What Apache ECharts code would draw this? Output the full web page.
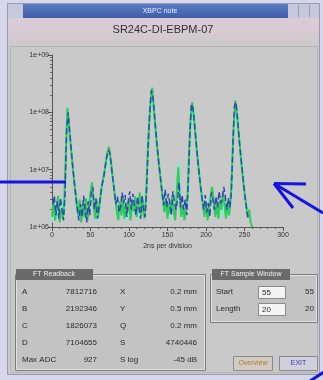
<!DOCTYPE html>
<html><head><meta charset="utf-8">
<script src="https://cdn.jsdelivr.net/npm/echarts@6/dist/echarts.min.js"></script>
<style>html,body{margin:0;padding:0;background:#d8d8ee}#c{width:323px;height:380px}</style>
</head><body><div id="c"></div>
<script>
// ---- data ----
const xTicks = [0, 50, 100, 150, 200, 250, 300];
const yTicks = ['1e+06', '1e+07', '1e+08', '1e+09'];
const greenX = [0,2,4,6,8,10,12,14,16,18,20,22,24,26,28,30,32,34,36,38,40,42,44,46,48,50,52,54,56,58,60,62,64,66,68,70,72,74,76,78,80,82,84,86,88,90,92,94,96,98,100,102,104,106,108,110,112,114,116,118,120,122,124,126,128,130,132,134,136,138,140,142,144,146,148,150,152,154,156,158,160,162,164,166,168,170,172,174,176,178,180,182,184,186,188,190,192,194,196,198,200,202,204,206,208,210,212,214,216,218,220,222,224,226,228,230,232,234,236,238,240,242,244,246,248,250,252,254,256,258,260];
const greenY = [1.5e6,2.8e6,1.3e6,2.2e6,3.5e6,1.2e6,2.0e6,1.4e6,3.0e6,2.0e7,1.2e8,6.0e7,3.0e7,1.5e7,8.0e6,4.5e6,2.5e6,1.6e6,3.0e6,1.2e6,2.4e6,1.5e6,3.2e6,1.3e6,2.2e6,4.0e6,6.0e6,2.5e6,1.4e6,3.0e6,1.5e6,2.6e6,4.5e6,6.5e6,9.0e6,1.4e7,2.0e7,2.5e7,1.6e7,9.0e6,5.5e6,3.2e6,2.0e6,1.3e6,2.8e6,1.6e6,3.5e6,1.4e6,2.5e6,1.8e6,3.0e6,1.3e6,2.6e6,1.9e6,3.4e6,1.5e6,2.4e6,4.0e6,1.6e6,2.8e6,1.4e6,3.0e6,1.5e7,6.0e7,1.6e8,2.7e8,1.3e8,6.0e7,3.0e7,1.6e7,9.0e6,5.0e6,3.0e6,1.8e6,3.2e6,1.4e6,2.6e6,1.7e6,3.5e6,2.0e6,1.3e6,4.0e6,1.1e7,3.0e6,1.5e6,2.5e6,1.3e6,2.2e6,3.5e6,2.0e7,8.0e7,1.5e8,9.0e7,4.5e7,2.2e7,1.2e7,6.5e6,4.0e6,2.4e6,1.5e6,2.8e6,1.3e6,2.2e6,3.5e6,5.0e6,2.8e6,1.5e6,2.6e6,1.4e6,3.0e6,2.0e6,4.0e6,2.5e6,1.4e6,2.7e6,1.6e6,3.0e6,1.2e7,6.0e7,1.6e8,1.0e8,5.0e7,2.5e7,1.3e7,7.0e6,4.0e6,2.5e6,1.5e6,2.0e6,1.2e6,1.0e6];
const blueX = [1,3,5,7,9,11,13,15,17,19,21,23,25,27,29,31,33,35,37,39,41,43,45,47,49,51,53,55,57,59,61,63,65,67,69,71,73,75,77,79,81,83,85,87,89,91,93,95,97,99,101,103,105,107,109,111,113,115,117,119,121,123,125,127,129,131,133,135,137,139,141,143,145,147,149,151,153,155,157,159,161,163,165,167,169,171,173,175,177,179,181,183,185,187,189,191,193,195,197,199,201,203,205,207,209,211,213,215,217,219,221,223,225,227,229,231,233,235,237,239,241,243,245,247,249,251,253,255];
const blueY = [2.5e6,3.5e6,1.6e6,2.8e6,1.4e6,3.2e6,2.0e6,1.3e6,4.0e6,5.0e7,1.0e8,4.5e7,2.2e7,1.1e7,6.0e6,3.5e6,2.0e6,1.3e6,2.5e6,1.5e6,3.5e6,2.0e6,1.2e6,2.8e6,1.6e6,3.8e6,5.0e6,2.0e6,3.2e6,1.4e6,2.2e6,3.5e6,5.5e6,7.0e6,1.1e7,1.6e7,2.2e7,2.0e7,1.2e7,7.0e6,4.2e6,2.5e6,3.4e6,1.8e6,2.2e6,4.0e6,2.6e6,3.6e6,1.5e6,2.8e6,4.2e6,2.0e6,3.8e6,2.4e6,1.6e6,3.4e6,2.2e6,1.4e6,3.6e6,2.0e6,1.5e6,5.0e6,3.0e7,1.0e8,2.4e8,2.0e8,9.0e7,4.5e7,2.2e7,1.2e7,7.0e6,4.0e6,2.4e6,4.5e6,2.2e6,3.8e6,2.6e6,1.6e6,4.2e6,2.8e6,2.0e6,3.0e6,6.0e6,2.2e6,3.6e6,2.0e6,3.0e6,1.6e6,6.0e6,4.0e7,1.4e8,1.2e8,6.5e7,3.2e7,1.6e7,9.0e6,5.0e6,3.0e6,2.0e6,3.6e6,1.8e6,2.6e6,1.5e6,4.0e6,3.0e6,2.0e6,3.4e6,2.2e6,4.2e6,2.6e6,3.0e6,5.0e6,3.5e6,2.0e6,3.2e6,2.2e6,4.0e6,3.0e7,1.3e8,1.5e8,7.5e7,3.5e7,1.8e7,1.0e7,5.5e6,3.0e6,2.0e6,1.3e6];
const cyanX = [0,4,8,12,16,20,24,28,32,36,40,44,48,52,56,60,64,68,72,76,80,84,88,92,96,100,104,108,112,116,120,124,128,132,136,140,144,148,152,156,160,164,168,172,176,180,184,188,192,196,200,204,208,212,216,220,224,228,232,236,240,244,248,252,256];
const cyanY = [1.2e6,2.0e6,1.5e6,2.6e6,1.8e6,1.0e8,3.5e7,9.0e6,3.0e6,1.4e6,2.0e6,1.6e6,3.0e6,4.5e6,2.2e6,1.3e6,3.8e6,8.0e6,1.8e7,1.4e7,6.0e6,2.6e6,1.5e6,2.4e6,1.3e6,2.2e6,1.6e6,2.6e6,1.4e6,2.3e6,1.7e6,1.0e7,1.3e8,1.6e8,3.5e7,1.0e7,3.5e6,2.0e6,1.4e6,2.5e6,1.8e6,1.3e7,2.0e6,1.5e6,2.4e6,6.0e7,1.3e8,2.8e7,7.0e6,2.8e6,1.6e6,2.5e6,4.0e6,1.8e6,2.2e6,1.5e6,3.0e6,2.0e6,2.4e6,5.0e7,1.2e8,3.0e7,8.0e6,2.5e6,1.4e6];
const readLabels1 = ['A', 'B', 'C', 'D', 'Max ADC'];
const readValues1 = ['7812716', '2192346', '1826073', '7104655', '927'];
const readLabels2 = ['X', 'Y', 'Q', 'S', 'S log'];
const readValues2 = ['0.2 mm', '0.5 mm', '0.2 mm', '4740446', '-45 dB'];
const winLabels = ['Start', 'Length'];
const winInputs = ['55', '20'];
const winValues = ['55', '20'];

const zip = (xs, ys) => xs.map((x, i) => [x, ys[i]]);
const FONT = 'Liberation Sans, Arial, sans-serif';
const txt = (x, y, s, o = {}) => ({ type: 'text', x, y, z: 50, style: Object.assign({ text: s, fill: '#2a2a2a', font: '8px ' + FONT, textAlign: 'left', textVerticalAlign: 'middle' }, o) });
const rect = (x, y, w, h, fill, o = {}) => Object.assign({ type: 'rect', shape: { x, y, width: w, height: h }, style: { fill }, z: 1 }, o);
const line = (x1, y1, x2, y2, stroke, lw = 1, z = 5) => ({ type: 'line', shape: { x1, y1, x2, y2 }, style: { stroke, lineWidth: lw }, z });

const g = [];
// lavender outside
g.push(rect(0, 0, 7, 380, '#d6d6ec'));
g.push(rect(0, 0, 323, 3, '#d6d6ec'));
g.push(rect(0, 375, 323, 5, '#d6d6ec'));
g.push(rect(320, 0, 3, 380, '#d6d6ec'));
// window border
g.push({ type: 'rect', shape: { x: 7.5, y: 3.5, width: 312, height: 371 }, style: { fill: null, stroke: '#9a9aa8', lineWidth: 1 }, z: 5 });
g.push({ type: 'rect', shape: { x: 10.5, y: 46.5, width: 307, height: 326 }, style: { fill: null, stroke: '#b4b4b4', lineWidth: 1 }, z: 2 });
// title bar
g.push(rect(23, 4, 265, 14, '#4a6cb4', { style: { fill: new echarts.graphic.LinearGradient(0, 0, 0, 1, [{ offset: 0, color: '#5a7cc4' }, { offset: 1, color: '#3e5ea8' }]) } }));
g.push(rect(8, 4, 15, 14, '#c6c8dc'));
g.push(rect(288, 4, 32, 14, '#c6c8dc'));
g.push(line(298.5, 5, 298.5, 17, '#9a9ab0'));
g.push(line(309.5, 5, 309.5, 17, '#9a9ab0'));
g.push(txt(160, 11, 'XBPC note', { fill: '#e8ecff', font: '7px ' + FONT, textAlign: 'center' }));
// pink band
g.push(rect(8, 18, 312, 28, '#d8cad6', { style: { fill: new echarts.graphic.LinearGradient(0, 0, 0, 1, [{ offset: 0, color: '#dccbd8' }, { offset: 0.7, color: '#d4c9d0' }, { offset: 1, color: '#cbcaca' }]) } }));
g.push(txt(163, 30, 'SR24C-DI-EBPM-07', { font: '11px ' + FONT, textAlign: 'center', fill: '#303030' }));
// FT Readback group
g.push({ type: 'rect', shape: { x: 15.5, y: 274.5, width: 190, height: 96 }, style: { fill: '#c3c3c3', stroke: '#7c7c7c', lineWidth: 1 }, z: 2 });
g.push({ type: 'rect', shape: { x: 16.5, y: 275.5, width: 188, height: 94 }, style: { fill: null, stroke: '#e2e2e2', lineWidth: 1 }, z: 3 });
g.push(rect(16, 269, 77, 11, '#6a6a6a', { z: 6 }));
g.push(txt(54, 274.5, 'FT Readback', { fill: '#f0f0f0', font: '7px ' + FONT, textAlign: 'center' }));
const rowsY = [292, 309, 326, 343, 360];
readLabels1.forEach((s, i) => {
  g.push(txt(22, rowsY[i], s));
  g.push(txt(97, rowsY[i], readValues1[i], { textAlign: 'right' }));
  g.push(txt(120, rowsY[i], readLabels2[i]));
  g.push(txt(197, rowsY[i], readValues2[i], { textAlign: 'right' }));
});
// FT Sample Window group
g.push({ type: 'rect', shape: { x: 210.5, y: 274.5, width: 107, height: 48 }, style: { fill: '#c3c3c3', stroke: '#7c7c7c', lineWidth: 1 }, z: 2 });
g.push({ type: 'rect', shape: { x: 211.5, y: 275.5, width: 105, height: 46 }, style: { fill: null, stroke: '#e2e2e2', lineWidth: 1 }, z: 3 });
g.push(rect(212, 269, 78, 11, '#6a6a6a', { z: 6 }));
g.push(txt(251, 274.5, 'FT Sample Window', { fill: '#f0f0f0', font: '7px ' + FONT, textAlign: 'center' }));
const wy = [292, 309];
winLabels.forEach((s, i) => {
  g.push(txt(216, wy[i], s));
  g.push({ type: 'rect', shape: { x: 258.5, y: wy[i] - 5.5, width: 27, height: 12 }, style: { fill: '#f4f4f4', stroke: '#8a8a8a', lineWidth: 1 }, z: 6 });
  g.push(txt(262, wy[i] + 0.5, winInputs[i]));
  g.push(txt(314, wy[i], winValues[i], { textAlign: 'right' }));
});
// buttons
g.push({ type: 'rect', shape: { x: 233.5, y: 356.5, width: 39, height: 14 }, style: { fill: '#d0ccc4', stroke: '#8a8a8a', lineWidth: 1 }, z: 6 });
g.push(txt(253, 363.5, 'Overview', { fill: '#b07a30', font: '7px ' + FONT, textAlign: 'center' }));
g.push({ type: 'rect', shape: { x: 279.5, y: 356.5, width: 38, height: 14 }, style: { fill: '#cfd0dc', stroke: '#8a8a8a', lineWidth: 1 }, z: 6 });
g.push(txt(298.5, 363.5, 'EXIT', { fill: '#3a3ab0', font: '7px ' + FONT, textAlign: 'center' }));
// blue annotation marks
g.push(line(0, 182, 66, 182, '#1414e0', 3, 60));
g.push(line(323, 213, 274, 183.5, '#1414e0', 3, 60));
g.push(line(274, 183.5, 306, 184, '#1414e0', 3, 60));
g.push(line(274, 183.5, 293, 208, '#1414e0', 3, 60));
g.push(line(310, 381, 324, 372, '#1414e0', 3, 60));

const chart = echarts.init(document.getElementById('c'), null, { renderer: 'canvas' });
chart.setOption({
  backgroundColor: '#c9c9c9',
  animation: false,
  grid: { left: 52, right: 40, top: 55, bottom: 153, show: false },
  xAxis: {
    type: 'value', min: xTicks[0], max: xTicks[xTicks.length - 1], interval: 50,
    name: '2ns per division', nameLocation: 'middle', nameGap: 16,
    nameTextStyle: { fontSize: 7, color: '#333', fontFamily: FONT },
    axisLine: { lineStyle: { color: '#555', width: 1 } },
    axisTick: { inside: false, length: 4, lineStyle: { color: '#555' } },
    minorTick: { show: true, splitNumber: 5, length: 2, lineStyle: { color: '#555' } },
    axisLabel: { fontSize: 7, color: '#333', margin: 5, fontFamily: FONT },
    splitLine: { show: false }
  },
  yAxis: {
    type: 'log', logBase: 10, min: 1e6, max: 1e9,
    axisLine: { show: true, lineStyle: { color: '#555', width: 1 } },
    axisTick: { show: true, length: 4, lineStyle: { color: '#555' } },
    minorTick: { show: true, splitNumber: 9, length: 2, lineStyle: { color: '#666' } },
    axisLabel: { fontSize: 7, color: '#333', margin: 3, fontFamily: FONT,
      formatter: v => yTicks[Math.round(Math.log10(v)) - 6] },
    splitLine: { show: false }
  },
  series: [
    { type: 'line', data: zip(cyanX, cyanY), symbol: 'none', lineStyle: { color: '#8ae8d0', width: 2.5 }, z: 2 },
    { type: 'line', data: zip(greenX, greenY), symbol: 'none', lineStyle: { color: '#2ecc5a', width: 2 }, z: 3 },
    { type: 'line', data: zip(blueX, blueY), symbol: 'none', lineStyle: { color: '#3048b0', width: 1.5, type: 'dashed' }, z: 4 }
  ],
  graphic: { elements: g }
});
</script></body></html>
